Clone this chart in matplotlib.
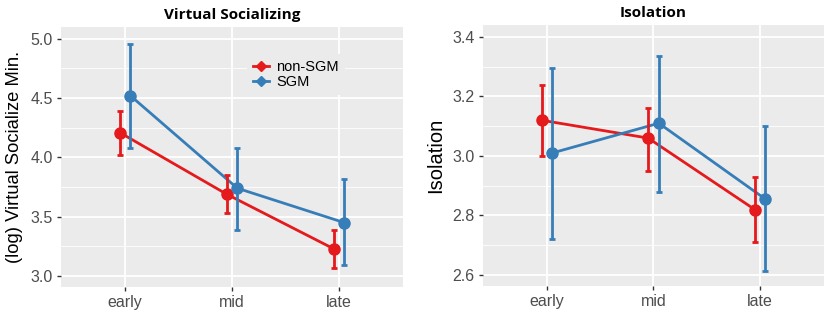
import matplotlib
matplotlib.use("Agg")
import matplotlib.pyplot as plt
from matplotlib.lines import Line2D
import numpy as np

phases = ["early", "mid", "late"]
groups = ["non-SGM", "SGM"]
colors = {"non-SGM": "#E41A1C", "SGM": "#377EB8"}

# Virtual Socializing
vs_mean = {"non-SGM": [4.21, 3.69, 3.23], "SGM": [4.52, 3.74, 3.45]}
vs_low = {"non-SGM": [4.02, 3.53, 3.07], "SGM": [4.08, 3.39, 3.09]}
vs_high = {"non-SGM": [4.39, 3.85, 3.39], "SGM": [4.96, 4.08, 3.82]}

# Isolation
iso_mean = {"non-SGM": [3.12, 3.06, 2.82], "SGM": [3.01, 3.11, 2.855]}
iso_low = {"non-SGM": [3.00, 2.95, 2.71], "SGM": [2.72, 2.88, 2.615]}
iso_high = {"non-SGM": [3.24, 3.16, 2.93], "SGM": [3.295, 3.335, 3.10]}

W, H = 829, 317
fig = plt.figure(figsize=(W / 100, H / 100), dpi=100)
fig.patch.set_facecolor("white")

def px_axes(x0, y0, x1, y1):
    return fig.add_axes([x0 / W, 1 - y1 / H, (x1 - x0) / W, (y1 - y0) / H])

ax1 = px_axes(61, 27, 403, 287)
ax2 = px_axes(483, 25, 824, 286)

tick_font = dict(family="Liberation Sans", size=11.5, color="#4D4D4D")

def draw(ax, mean, low, high, ylim, major, minor, ylabel, title, ylsize):
    ax.set_facecolor("#EBEBEB")
    for s in ax.spines.values():
        s.set_visible(False)
    x = np.arange(len(phases))
    offs = {"non-SGM": -0.05, "SGM": 0.05}
    for g in groups:
        xs = x + offs[g]
        m = np.array(mean[g]); lo = np.array(low[g]); hi = np.array(high[g])
        ax.plot(xs, m, color=colors[g], lw=2, zorder=3)
        ax.errorbar(xs, m, yerr=[m - lo, hi - m], fmt="none", ecolor=colors[g],
                    elinewidth=2, capsize=2.5, capthick=2, zorder=4)
        ax.plot(xs, m, "o", color=colors[g], ms=8, zorder=5)
    ax.set_xlim(-0.6, 2.6)
    ax.set_ylim(*ylim)
    ax.set_xticks(x)
    ax.set_xticklabels(phases, fontdict=tick_font)
    ax.set_yticks(major)
    ax.set_yticklabels([f"{v:.1f}" for v in major], fontdict=tick_font)
    ax.set_yticks(minor, minor=True)
    ax.grid(which="major", color="white", lw=1.3, zorder=0)
    ax.grid(which="minor", axis="y", color="white", lw=0.6, zorder=0)
    ax.set_axisbelow(True)
    ax.tick_params(which="major", length=3, color="#333333", width=1, pad=3)
    ax.tick_params(which="minor", length=0)
    ax.set_ylabel(ylabel, family="Liberation Sans", size=ylsize, color="black", labelpad=5)
    ax.set_title(title, family="Open Sans", weight="bold", size=11, pad=6)

draw(ax1, vs_mean, vs_low, vs_high, (2.907, 5.10),
     [3.0, 3.5, 4.0, 4.5, 5.0], [3.25, 3.75, 4.25, 4.75],
     "(log) Virtual Socialize Min.", "Virtual Socializing", 13.2)
draw(ax2, iso_mean, iso_low, iso_high, (2.563, 3.44),
     [2.6, 2.8, 3.0, 3.2, 3.4], [2.7, 2.9, 3.1, 3.3],
     "Isolation", "Isolation", 14.5)

handles = [Line2D([0], [0], color=colors[g], lw=2, marker="D", ms=5) for g in groups]
leg = ax1.legend(handles, groups, loc="upper left", bbox_to_anchor=((240 - 61) / 342, 1 - (47 - 27) / 260),
                 frameon=True, facecolor="#EBEBEB", edgecolor="none", framealpha=1,
                 prop=dict(family="Liberation Sans", size=10.5), handlelength=1.1,
                 handletextpad=0.5, labelspacing=0.05, borderpad=0.4, fancybox=False)

fig.savefig("out.png", dpi=100)
